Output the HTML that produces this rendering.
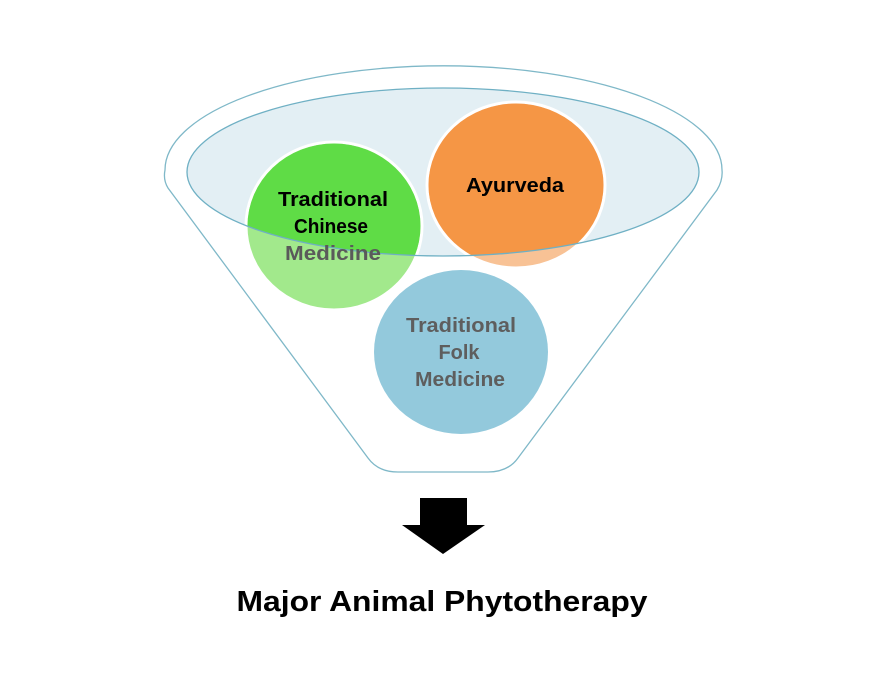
<!DOCTYPE html>
<html><head><meta charset="utf-8"><style>
body{margin:0;background:#fff;}
svg{display:block;}
text{font-family:"Liberation Sans",sans-serif;font-weight:bold;}
</style></head><body>
<svg width="875" height="677" viewBox="0 0 875 677">
<defs>
<clipPath id="inner"><ellipse cx="443" cy="172" rx="256" ry="84"/></clipPath>
</defs>
<path d="M168,188 Q163,180 165,170 A278,104 0 0 1 722,170 Q723,180 717,190 L518,458 Q508,472 488,472 L398,472 Q378,472 368,458 Z" fill="#fff" stroke="#7fb8c8" stroke-width="1.3"/>
<ellipse cx="443" cy="172" rx="256" ry="84" fill="#e3eff4"/>
<g>
<ellipse cx="334" cy="226" rx="88" ry="84" fill="#a2e98c" stroke="#fff" stroke-width="3"/>
<ellipse cx="516" cy="185" rx="89" ry="83" fill="#f8c295" stroke="#fff" stroke-width="3"/>
<ellipse cx="461" cy="352" rx="87" ry="82" fill="#93c9dc"/>
<g clip-path="url(#inner)">
<ellipse cx="334" cy="226" rx="86.5" ry="82.5" fill="#5fdc46"/>
<ellipse cx="516" cy="185" rx="87.5" ry="81.5" fill="#f59645"/>
</g>
</g>
<ellipse cx="443" cy="172" rx="256" ry="84" fill="none" stroke="#6fb0c4" stroke-width="1.3"/>
<text text-anchor="middle" font-size="20" fill="#000"><tspan x="333" y="206" textLength="110" lengthAdjust="spacingAndGlyphs">Traditional</tspan><tspan x="331" y="233" textLength="74" lengthAdjust="spacingAndGlyphs">Chinese</tspan><tspan x="333" y="260" fill="#5a5a5a" textLength="96" lengthAdjust="spacingAndGlyphs">Medicine</tspan></text>
<text x="515" y="192" text-anchor="middle" font-size="20" fill="#000" textLength="98" lengthAdjust="spacingAndGlyphs">Ayurveda</text>
<text text-anchor="middle" font-size="20" fill="#5e5e5e"><tspan x="461" y="332" textLength="110" lengthAdjust="spacingAndGlyphs">Traditional</tspan><tspan x="459" y="359" textLength="41" lengthAdjust="spacingAndGlyphs">Folk</tspan><tspan x="460" y="386" textLength="90" lengthAdjust="spacingAndGlyphs">Medicine</tspan></text>
<path d="M420,498 H467 V525 H485 L443,554 L402,525 H420 Z" fill="#000"/>
<text x="442" y="611" text-anchor="middle" font-size="29" fill="#000" textLength="411" lengthAdjust="spacingAndGlyphs">Major Animal Phytotherapy</text>
</svg>
</body></html>
